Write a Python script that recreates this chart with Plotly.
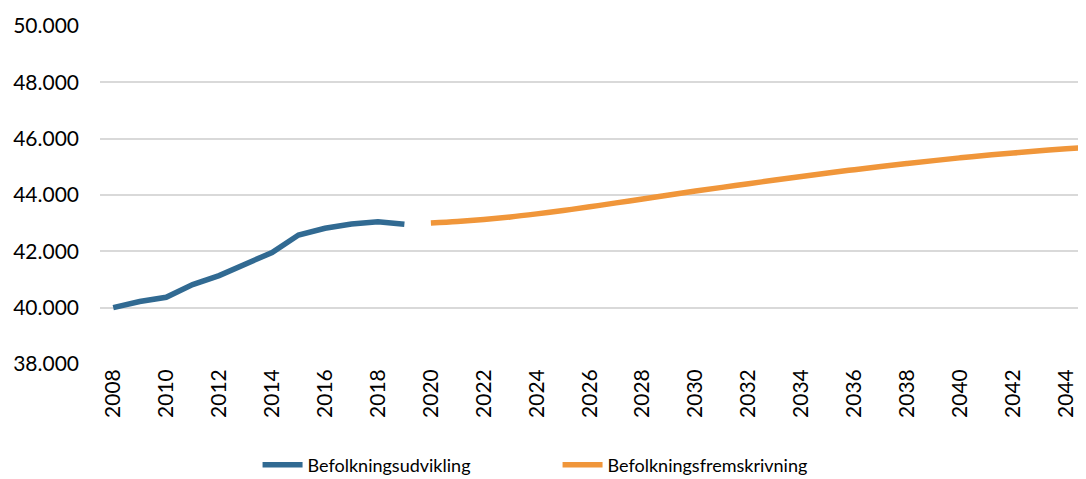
import plotly.graph_objects as go

hist_years = list(range(2008, 2020))
hist_values = [40000, 40220, 40370, 40820, 41140, 41550, 41960, 42580, 42820, 42970, 43050, 42960]

proj_years = list(range(2020, 2046))
proj_values = [43010, 43060, 43130, 43220, 43330, 43450, 43580, 43720, 43860, 44000,
               44140, 44270, 44400, 44530, 44660, 44780, 44900, 45010, 45120, 45220,
               45320, 45410, 45490, 45570, 45640, 45710]

y_ticks = [38000, 40000, 42000, 44000, 46000, 48000, 50000]
y_labels = ["38.000", "40.000", "42.000", "44.000", "46.000", "48.000", "50.000"]
x_ticks = list(range(2008, 2046, 2))

FONT = "Lato"
fig = go.Figure()
fig.add_trace(go.Scatter(x=hist_years, y=hist_values, mode="lines", name="Befolkningsudvikling",
                         line=dict(color="#316A92", width=5.5)))
fig.add_trace(go.Scatter(x=proj_years, y=proj_values, mode="lines", name="Befolkningsfremskrivning",
                         line=dict(color="#F0963A", width=5.5, shape="spline")))

fig.update_layout(
    width=1078, height=471,
    margin=dict(l=92, r=0, t=18, b=115),
    paper_bgcolor="white", plot_bgcolor="white",
    font=dict(family=FONT, size=21, color="#000000"),
    xaxis=dict(range=[2007.5, 2044.75], tickvals=x_ticks, ticktext=[str(v) for v in x_ticks],
               tickangle=-90, showgrid=False, zeroline=False, showline=False, ticks="",
               tickfont=dict(size=21), automargin=False),
    yaxis=dict(range=[38000, 50000], tickvals=y_ticks, ticktext=y_labels,
               showgrid=True, gridcolor="#D9D9D9", gridwidth=1.5, zeroline=False,
               showline=False, ticks="", tickfont=dict(size=21), ticklabelstandoff=20,
               automargin=False),
    legend=dict(orientation="h", xref="container", x=0.2315, xanchor="left",
                yref="container", y=0.0295, yanchor="middle", font=dict(size=18),
                itemwidth=40, entrywidth=245, entrywidthmode="pixels"),
    showlegend=True,
)
fig.write_html("out.html")
